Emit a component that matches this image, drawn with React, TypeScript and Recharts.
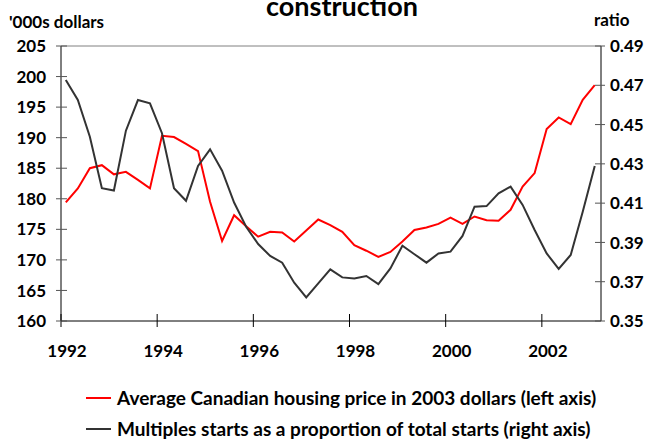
import { LineChart, Line, XAxis, YAxis, ReferenceLine } from 'recharts';

const years = [1992, 1993, 1994, 1995, 1996, 1997, 1998, 1999, 2000, 2001, 2002, 2003];
const quarterNames = ['Q1', 'Q2', 'Q3', 'Q4'];

// average price, '000s of 2003 dollars (left axis)
const price = [
  179.4, 181.7, 185.0, 185.5, 184.0, 184.4, 183.1, 181.7, 190.3, 190.1, 189.0, 187.8,
  179.5, 173.1, 177.3, 175.5, 173.8, 174.6, 174.5, 173.0, 174.8, 176.6, 175.7, 174.6,
  172.4, 171.5, 170.5, 171.3, 173.0, 174.9, 175.3, 175.9, 176.9, 175.9, 177.1, 176.5,
  176.4, 178.2, 182.0, 184.2, 191.4, 193.3, 192.2, 196.2, 198.6,
];

// multiples share of total starts (right axis)
const multiples = [
  0.4727, 0.4625, 0.4438, 0.4176, 0.4164, 0.4469, 0.4625, 0.4608, 0.4456, 0.4176, 0.4112, 0.4289,
  0.4374, 0.4265, 0.4103, 0.398, 0.3892, 0.3831, 0.3797, 0.3695, 0.362, 0.3692, 0.3763, 0.3722,
  0.3717, 0.3729, 0.3688, 0.3768, 0.3883, 0.384, 0.3797, 0.3844, 0.3853, 0.3933, 0.4082, 0.4085,
  0.415, 0.4184, 0.4091, 0.3963, 0.3844, 0.3765, 0.3836, 0.4056, 0.4289,
];

const xTicks = [1992, 1994, 1996, 1998, 2000, 2002];
const leftTicks = [160, 165, 170, 175, 180, 185, 190, 195, 200, 205];
const rightTicks = [0.35, 0.37, 0.39, 0.41, 0.43, 0.45, 0.47, 0.49];

const quarters = years.flatMap(y => quarterNames.map(q => ({ year: y, q: quarterNames.indexOf(q) }))).slice(0, price.length);

const data = quarters.map((d, i) => ({
  t: d.year + d.q / 4 + 0.1,
  price: price[i],
  multiples: multiples[i],
}));

const series = [
  { key: 'price', axis: 'left', color: '#ff0000', label: 'Average Canadian housing price in 2003 dollars (left axis)' },
  { key: 'multiples', axis: 'right', color: '#333333', label: 'Multiples starts as a proportion of total starts (right axis)' },
];

const font = 'Lato, "DejaVu Sans", sans-serif';

const XTick = (props: any) => {
  const { x, y, payload } = props;
  const axisY = y - 6 - 18;
  return (
    <g>
      <line x1={x} x2={x} y1={axisY - 7} y2={axisY + 6} stroke="#000" />
      <text x={x + 6} y={y} dy="0.71em" textAnchor="middle" fontFamily={font} fontWeight={700} fontSize={17} fill="#000">
        {payload.value}
      </text>
    </g>
  );
};

const LeftTick = (props: any) => {
  const { x, y, payload } = props;
  const ax = x + 5 + 10;
  return (
    <g>
      <line x1={ax - 5} x2={ax + 6} y1={y} y2={y} stroke="#555" />
      <text x={x} y={y} dy="0.36em" textAnchor="end" fontFamily={font} fontWeight={700} fontSize={17} fill="#000">
        {payload.value}
      </text>
    </g>
  );
};

const RightTick = (props: any) => {
  const { x, y, payload } = props;
  const ax = x - 5 - 4;
  return (
    <g>
      <line x1={ax - 6} x2={ax + 4} y1={y} y2={y} stroke="#555" />
      <text x={x} y={y} dy="0.36em" textAnchor="start" fontFamily={font} fontWeight={700} fontSize={17} fill="#000">
        {payload.value.toFixed(2)}
      </text>
    </g>
  );
};

export default function App() {
  return (
    <div style={{ position: 'absolute', left: 0, top: 0, width: 651, height: 439, background: '#fff', fontFamily: font, fontWeight: 700, color: '#000', overflow: 'hidden' }}>
      <div style={{ position: 'absolute', left: 0, width: 684, top: -11, textAlign: 'center', fontSize: 27, lineHeight: '34px', fontWeight: 700 }}>
        construction
      </div>
      <div style={{ position: 'absolute', left: 9, top: 12, fontSize: 17, lineHeight: '20px', fontWeight: 700 }}>'000s dollars</div>
      <div style={{ position: 'absolute', left: 594, top: 10, fontSize: 17, lineHeight: '20px', fontWeight: 700 }}>ratio</div>

      <LineChart width={651} height={439} data={data} margin={{ top: 46, right: 0, left: 0, bottom: 88 }}>
        <XAxis
          dataKey="t"
          type="number"
          domain={[1992, 2003.23]}
          ticks={xTicks}
          interval={0}
          height={30}
          tickSize={6}
          tickMargin={18}
          tickLine={false}
          tick={<XTick />}
          axisLine={{ stroke: '#000' }}
        />
        <YAxis
          yAxisId="left"
          domain={[160, 205]}
          ticks={leftTicks}
          interval={0}
          width={61}
          tickSize={5}
          tickMargin={10}
          tickLine={false}
          tick={<LeftTick />}
          axisLine={{ stroke: '#000' }}
        />
        <YAxis
          yAxisId="right"
          orientation="right"
          domain={[0.35, 0.49]}
          ticks={rightTicks}
          interval={0}
          width={50}
          tickSize={5}
          tickMargin={4}
          tickLine={false}
          tick={<RightTick />}
          axisLine={{ stroke: '#000' }}
        />
        <ReferenceLine yAxisId="left" y={205} stroke="#808080" />
        {series.map(s => (
          <Line
            key={s.key}
            yAxisId={s.axis}
            dataKey={s.key}
            type="linear"
            stroke={s.color}
            strokeWidth={2}
            dot={false}
            isAnimationActive={false}
          />
        ))}
      </LineChart>

      <div style={{ position: 'absolute', left: 86, top: 382 }}>
        {series.map(s => (
          <div key={s.key} style={{ display: 'flex', alignItems: 'center', height: 31, fontSize: 19, fontWeight: 700, whiteSpace: 'nowrap' }}>
            <span style={{ display: 'inline-block', width: 25, height: 2, background: s.color, marginRight: 6 }} />
            <span style={{ fontWeight: 700 }}>{s.label}</span>
          </div>
        ))}
      </div>
    </div>
  );
}
